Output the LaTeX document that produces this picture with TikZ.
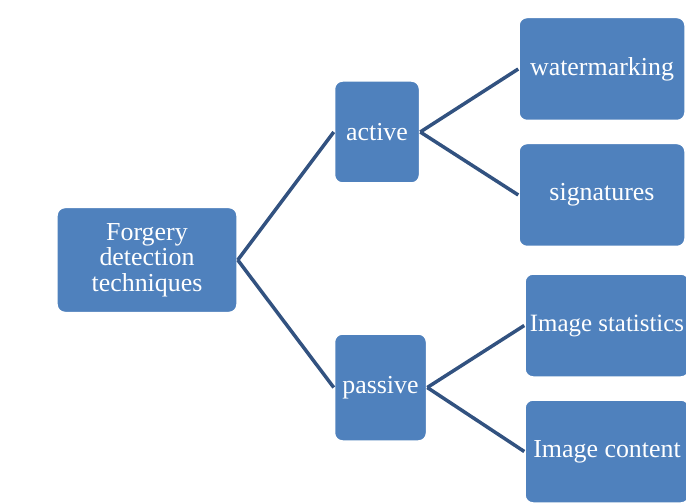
\documentclass[tikz,border=0pt]{standalone}
\usepackage{fontspec}
\setmainfont{Liberation Serif}
\usetikzlibrary{positioning}
\definecolor{boxblue}{RGB}{79,129,189}
\definecolor{linkblue}{RGB}{50,82,128}
\tikzset{x=1bp, y=-1bp}
\tikzstyle{box}=[rectangle, rounded corners=8bp, draw=white, line width=1.5bp, fill=boxblue, text=white, inner sep=0pt, align=center, font={\fontsize{26}{25.5}\selectfont}]
\tikzstyle{leaf}=[box, minimum width=166bp, minimum height=103bp]
\tikzstyle{link}=[draw=linkblue, line width=3.5bp]

\begin{document}
\begin{tikzpicture}
        \useasboundingbox (0,0) rectangle (686,503);
        \node (root) [box, minimum width=180bp, minimum height=105bp] at (147,260) {Forgery\\detection\\techniques};
        \node (act) [box, minimum width=85bp, minimum height=102bp, above right=23bp and 96bp of root] {active};
        \node (pas) [box, minimum width=92bp, minimum height=107bp, below right=20bp and 96bp of root] {passive};
        \node (wm) [leaf, right=98bp of act, yshift=63bp] {watermarking};
        \node (sig) [leaf, right=98bp of act, yshift=-63bp] {signatures};
        \node (stat) [leaf, minimum width=164bp, right=97bp of pas, yshift=62bp, font={\fontsize{25}{25.5}\selectfont}] {Image statistics};
        \node (cont) [leaf, minimum width=164bp, right=97bp of pas, yshift=-64bp] {Image content};
        \draw (root.east) edge[link] (act.west);
        \draw (root.east) edge[link] (pas.west);
        \draw (act.east) edge[link] (wm.west);
        \draw (act.east) edge[link] (sig.west);
        \draw (pas.east) edge[link] (stat.west);
        \draw (pas.east) edge[link] (cont.west);
\end{tikzpicture}
\end{document}
